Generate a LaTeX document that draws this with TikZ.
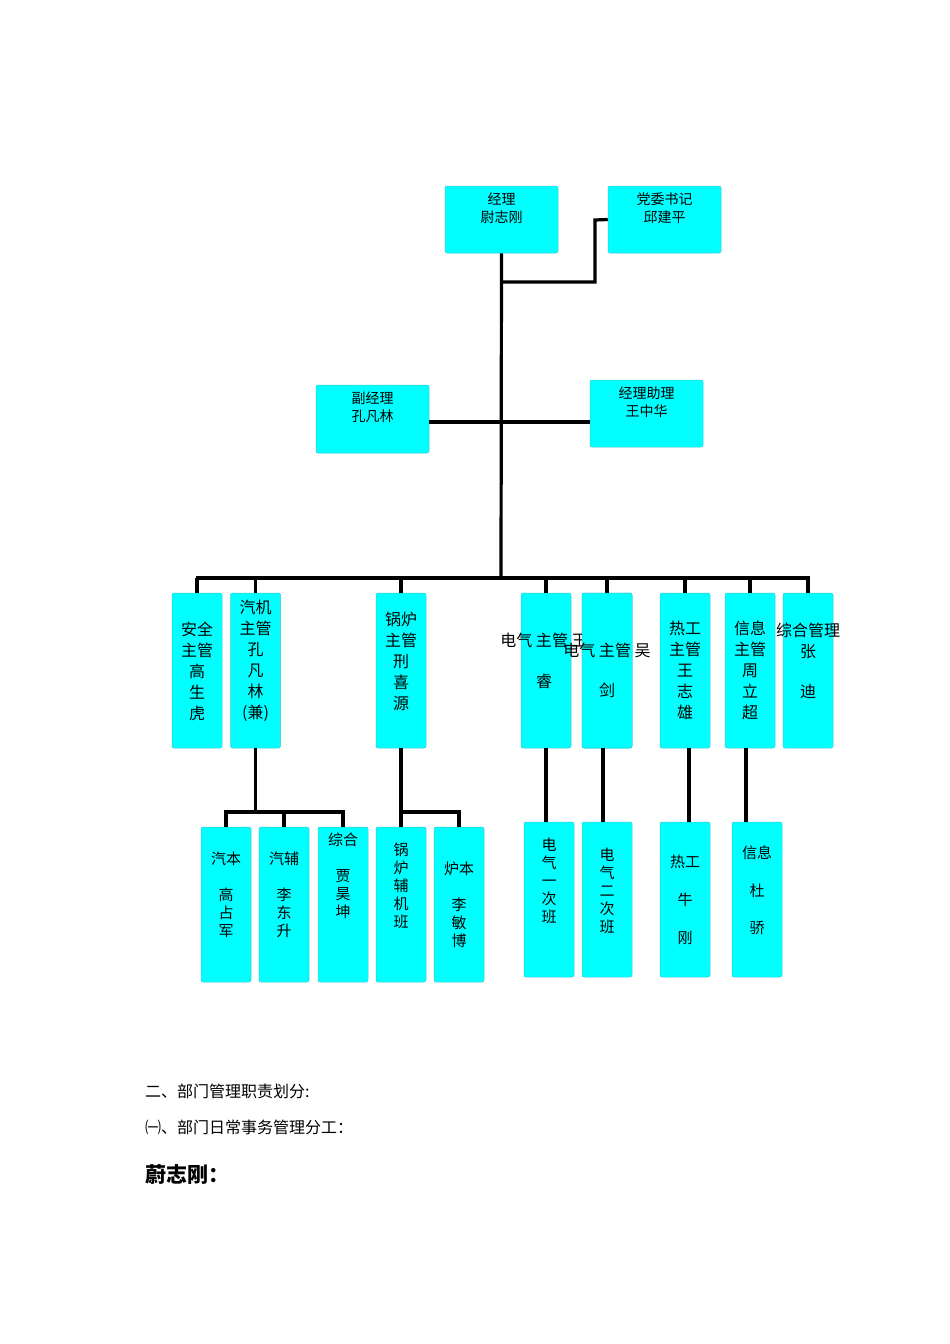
\documentclass[tikz,border=0pt]{standalone}
\usepackage{fontspec}
\setmainfont{Noto Sans CJK SC}
\definecolor{aqua}{RGB}{0,255,255}
\definecolor{aquaedge}{RGB}{60,200,210}
\begin{document}
\begin{tikzpicture}[x=1pt,y=-1pt,
  bx/.style={draw=aquaedge,line width=0.5pt,fill=aqua,rounded corners=2pt,inner sep=0pt},
  ln/.style={line width=3.2pt},
  tx/.style={inner sep=0pt,align=center,anchor=north}]
\useasboundingbox (0,0) rectangle (950,1344);
\newcommand{\bxx}[5]{\node[bx,minimum width=#3,minimum height=#4] (#5) at (#1,#2) {};}
\newcommand{\T}[5]{\node[tx,font=\fontsize{#3}{#4}\selectfont] at (#1,#2) {#5};}
% top
\bxx{501.5}{219.5}{113}{67}{jl}
\bxx{664.5}{219.5}{113}{67}{dw}
\bxx{372.5}{419}{113}{68}{fj}
\bxx{646.5}{413.5}{113}{67}{zl}
\T{501.5}{193}{14}{18}{经理\\尉志刚}
\T{664.5}{193}{14}{18}{党委书记\\邱建平}
\T{372.5}{392}{14}{18}{副经理\\孔凡林}
\T{646.5}{387}{14}{18}{经理助理\\王中华}
\coordinate (b1) at (501,578);
\draw[ln] (jl.south) -- (b1);
\draw[ln] (501,282) -| (595,220) -- (dw.west);
\draw[ln] (fj.east |- 0,422) -- (zl.west |- 0,422);
% middle
\foreach \n/\x in {m1/197,m2/255.5,m3/401,m4/546,m5/607,m6/685,m7/750,m8/808}{
  \bxx{\x}{670.5}{50}{155}{\n}
  \draw[ln] (\x,578) -- (\n.north);
}
\draw[ln] (195.5,578) -- (809.5,578);
\T{197}{622}{16}{21}{安全\\主管\\高\\生\\虎}
\T{255.5}{600}{16}{21}{汽机\\主管\\孔\\凡\\林\\(兼)}
\T{401}{612}{16}{21}{锅炉\\主管\\刑\\喜\\源}
\T{544}{633}{16}{41}{电气 主管 王\\睿}
\node[bx,minimum width=50,minimum height=155] at (607,670.5) {};
\T{607}{643}{16}{40}{电气 主管 吴\\剑}
\T{685}{621}{16}{21}{热工\\主管\\王\\志\\雄}
\T{750}{621}{16}{21}{信息\\主管\\周\\立\\超}
\T{808}{623}{16}{21}{综合管理\\张}
\T{808}{684}{16}{21}{迪}
% bottom left
\foreach \n/\x in {c1/226,c2/284,c3/343,c4/401,c5/459}{
  \bxx{\x}{904.5}{50}{155}{\n}
}
\draw[ln] (m2.south) -- (255.5,812);
\draw[ln] (c1.north) |- (343,812) -- (c3.north);
\draw[ln] (255.5,812) -- (284,812) -- (c2.north);
\draw[ln] (m3.south) -- (c4.north);
\draw[ln] (401,812) -| (c5.north);
\T{226}{852}{15}{18}{汽本\\ \\高\\占\\军}
\T{284}{852}{15}{18}{汽辅\\ \\李\\东\\升}
\T{343}{833}{15}{18}{综合\\ \\贾\\昊\\坤}
\T{401}{843}{15}{18}{锅\\炉\\辅\\机\\班}
\T{459}{862}{15}{18}{炉本\\ \\李\\敏\\博}
% bottom right
\foreach \n/\x/\tx in {d1/549/546,d2/607/603,d3/685/689,d4/757/746}{
  \bxx{\x}{899.5}{50}{155}{\n}
  \draw[ln] (\tx,748) -- (\tx,822);
}
\T{549}{838}{15}{18}{电\\气\\一\\次\\班}
\T{607}{848}{15}{18}{电\\气\\二\\次\\班}
\T{685}{855}{15}{38}{热工\\牛\\刚}
\T{757}{846}{15}{37.5}{信息\\杜\\骄}
% text
\node[anchor=west,inner sep=0pt,font=\fontsize{16}{18}\selectfont] at (145,1091) {二、部门管理职责划分:};
\node[anchor=west,inner sep=0pt,font=\fontsize{16}{18}\selectfont] at (145,1127) {㈠、部门日常事务管理分工：};
\node[anchor=west,inner sep=0pt,font=\fontsize{21}{24}\selectfont\bfseries] at (145,1175) {蔚志刚：};
\end{tikzpicture}
\end{document}
